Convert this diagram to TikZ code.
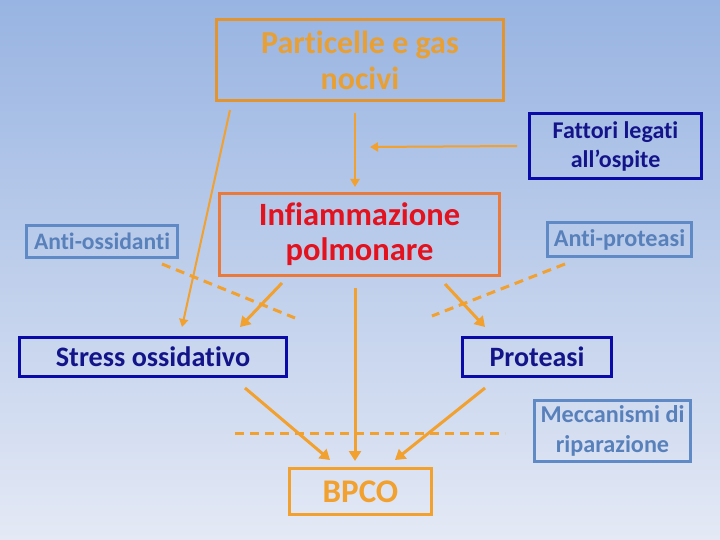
\documentclass[tikz,border=0pt]{standalone}
\usepackage{fontspec}
\setmainfont{Carlito}[Ligatures=NoCommon]
\usepackage{tikz}
\usetikzlibrary{arrows.meta, positioning}

\definecolor{bgtop}{RGB}{152,180,226}
\definecolor{bgbot}{RGB}{228,233,245}
\definecolor{ochre}{RGB}{226,148,48}
\definecolor{ochretext}{RGB}{232,160,52}
\definecolor{redline}{RGB}{233,122,60}
\definecolor{redtext}{RGB}{226,18,30}
\definecolor{navy}{RGB}{10,10,168}
\definecolor{navytext}{RGB}{20,20,138}
\definecolor{steel}{RGB}{95,138,198}
\definecolor{steeltext}{RGB}{88,128,186}
\definecolor{flowc}{RGB}{242,160,46}

\begin{document}
\begin{tikzpicture}[x=1pt, y=-1pt,
            every node/.style={rectangle, line width=3pt, align=center, font=\bfseries, inner sep=0pt},
            flow/.style={-{Triangle[length=10pt, width=12pt]}, line width=3pt, color=flowc},
            thinflow/.style={-{Triangle[length=8pt, width=9pt]}, line width=2pt, color=flowc},
            cutline/.style={line width=3pt, color=flowc, dash pattern=on 9pt off 6pt}
        ]
        
        \shade[top color=bgtop, bottom color=bgbot] (0,0) rectangle (720,540);
        \useasboundingbox (0,0) rectangle (720,540);
        
        \node[draw=ochre, text=ochretext, minimum width=287pt, minimum height=81pt, font=\bfseries\fontsize{32}{36}\selectfont] (part) at (360,60) {Particelle e gas\\nocivi};
        \node[draw=navy, text=navytext, minimum width=172pt, minimum height=65pt, font=\bfseries\fontsize{24}{29}\selectfont] (fatt) at (615.5,146) {Fattori legati\\all’ospite};
        \node[draw=redline, text=redtext, minimum width=280pt, minimum height=82pt, font=\bfseries\fontsize{32.5}{35}\selectfont] (infl) at (359.5,234.5) {Infiammazione\\polmonare};
        \node[draw=steel, text=steeltext, minimum width=151pt, minimum height=32pt, font=\bfseries\fontsize{23.6}{28}\selectfont] (antiox) at (102,241.5) {Anti-ossidanti};
        \node[draw=steel, text=steeltext, minimum width=144pt, minimum height=34pt, font=\bfseries\fontsize{24.2}{28}\selectfont] (antiprot) at (619.5,239.5) {Anti-proteasi};
        \node[draw=navy, text=navytext, minimum width=267pt, minimum height=39pt, font=\bfseries\fontsize{28.2}{32}\selectfont] (stress) at (153,357) {Stress ossidativo};
        \node[draw=navy, text=navytext, minimum width=149pt, minimum height=39pt, font=\bfseries\fontsize{28}{32}\selectfont] (prot) at (537,357) {Proteasi};
        \node[draw=steel, text=steeltext, minimum width=156pt, minimum height=61pt, font=\bfseries\fontsize{24.2}{29.5}\selectfont] (mecc) at (612.5,431) {Meccanismi di\\riparazione};
        \node[draw=flowc, text=flowc, minimum width=142pt, minimum height=46pt, font=\bfseries\fontsize{33}{36}\selectfont] (bpco) at (360.5,491.5) {BPCO};
        
        % free ends
        \coordinate (join) at (370,147);
        \coordinate (oxcut) at (295,318);
        \coordinate (protcut) at (432,316);
        \coordinate (repl) at (235,433);
        \coordinate (repr) at (505,433);
        
        \draw[cutline] ([xshift=-17pt,yshift=-5pt]antiox.south east) -- (oxcut);
        \draw[cutline] ([xshift=19pt,yshift=-6pt]antiprot.south west) -- (protcut);
        \draw[cutline] (repl) -- (repr);
        
        \draw[thinflow] ([xshift=15pt,yshift=-8pt]part.south west) -- ([xshift=29pt,yshift=9pt]stress.north);
        \draw[thinflow] ([xshift=-5pt,yshift=-11pt]part.south) -- ([xshift=-4.5pt,yshift=5pt]infl.north);
        \draw[thinflow] ([xshift=-11pt]fatt.west) -- (join);
        
        \draw[flow] ([xshift=-77.5pt,yshift=-6pt]infl.south) -- ([xshift=87pt,yshift=9pt]stress.north);
        \draw[flow] ([xshift=85.5pt,yshift=-7pt]infl.south) -- ([xshift=-52pt,yshift=9pt]prot.north);
        \draw[flow] ([xshift=-4.5pt,yshift=-11pt]infl.south) -- ([xshift=-5.5pt,yshift=6pt]bpco.north);
        
        \draw[flow] ([xshift=92pt,yshift=-10pt]stress.south) -- ([xshift=-30.5pt,yshift=7pt]bpco.north);
        \draw[flow] ([xshift=-52pt,yshift=-10pt]prot.south) -- ([xshift=34.5pt,yshift=7pt]bpco.north);
        
        \end{tikzpicture}
\end{document}
